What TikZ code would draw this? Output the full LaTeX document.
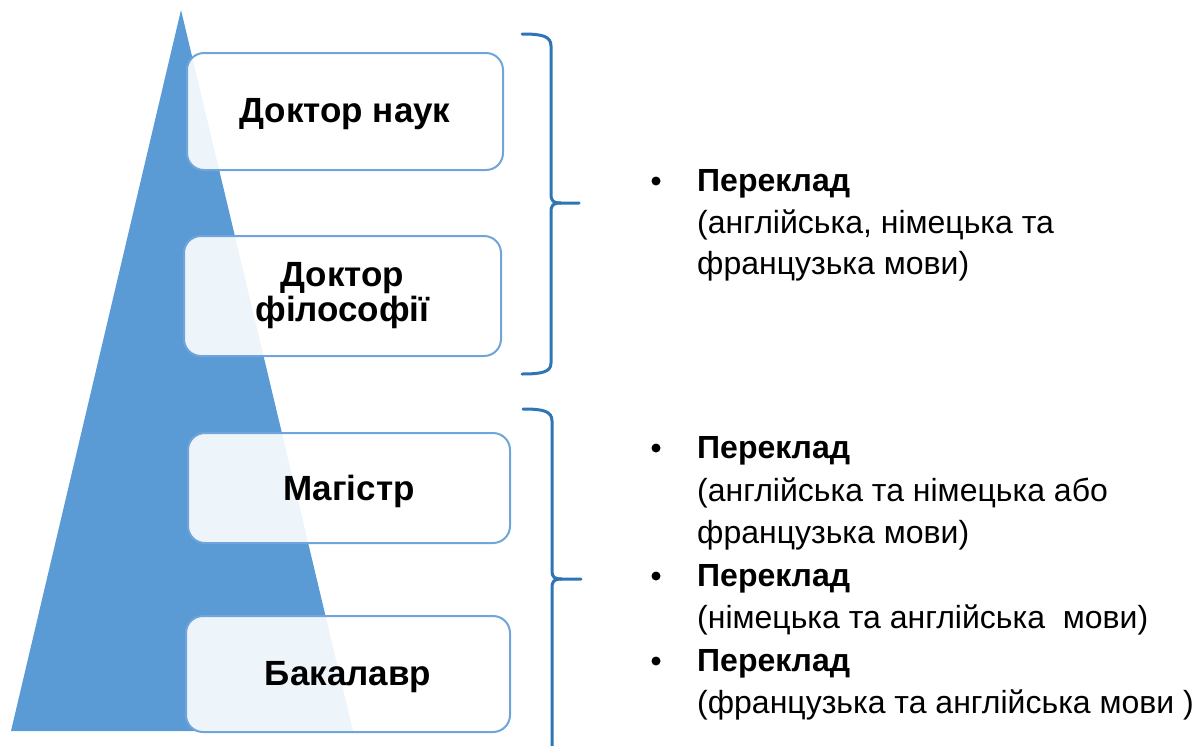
\documentclass[tikz,border=0pt]{standalone}
\usepackage{fontspec}
\setmainfont{Liberation Sans}
\definecolor{tri}{HTML}{5B9BD5}
\definecolor{boxline}{HTML}{6FA5DA}
\definecolor{bracecol}{HTML}{2E75B6}
\newcommand{\lowerlabel}[1]{\raisebox{-3pt}[\height][\depth]{#1}}
\begin{document}
\begin{tikzpicture}[x=1pt,y=-1pt,
  lvl/.style={draw=boxline, line width=2pt, rounded corners=17pt, fill=white,
    fill opacity=0.9, text opacity=1, align=center, inner sep=0pt,
    font=\fontsize{35}{35}\selectfont\bfseries},
  bracepath/.style={draw=bracecol, line width=3pt, line join=round, line cap=round},
  item/.style={anchor=base west, inner sep=0pt, font=\fontsize{32}{42}\selectfont},
  head/.style={item, font=\fontsize{32}{42}\selectfont\bfseries},
  bulletdot/.style={circle, fill=black, minimum size=9pt, inner sep=0pt}]
\useasboundingbox (0,0) rectangle (1195,745);
% pyramid
\fill[tri] (181,10) -- (353,731) -- (11,731) -- cycle;
% levels
\node[lvl, minimum width=316pt, minimum height=117pt] (dn) at (345,111.5) {\lowerlabel{Доктор наук}};
\node[lvl, minimum width=317pt, minimum height=120pt] (df) at (342.5,296) {Доктор\\філософії};
\node[lvl, minimum width=322pt, minimum height=110pt] (mg) at (349,488) {\lowerlabel{Магістр}};
\node[lvl, minimum width=324pt, minimum height=116pt] (bk) at (348,674) {\lowerlabel{Бакалавр}};
% braces
\draw[bracepath] (522,34) .. controls (542,34) and (551,36) .. (551,46) -- (551,194)
  .. controls (551,201) and (553,203) .. (561,203) -- (579,203);
\draw[bracepath] (561,203) .. controls (553,203) and (551,205) .. (551,212) -- (551,363)
  .. controls (551,372) and (542,374) .. (522,374);
\draw[bracepath] (523,409) .. controls (543,409) and (552,411) .. (552,421) -- (552,571)
  .. controls (552,577) and (554,579) .. (562,579) -- (581,579);
\draw[bracepath] (562,579) .. controls (554,579) and (552,581) .. (552,588) -- (552,748);
% group 1
\node[head] (h1) at (697,191) {Переклад};
\node[item] (h1a) at (697,233) {(англійська, німецька та};
\node[item] (h1b) at (697,274) {французька мови)};
\node[bulletdot] (b1) at (656,181) {};
% group 2
\node[head] (h2) at (697,458) {Переклад};
\node[item] (h2a) at (697,501) {(англійська та німецька або};
\node[item] (h2b) at (697,543) {французька мови)};
\node[bulletdot] (b2) at (656,448) {};
\node[head] (h3) at (697,586) {Переклад};
\node[item] (h3a) at (697,628) {(німецька та англійська\ \ мови)};
\node[bulletdot] (b3) at (656,576) {};
\node[head] (h4) at (697,671) {Переклад};
\node[item] (h4a) at (697,713) {(французька та англійська мови )};
\node[bulletdot] (b4) at (656,661) {};
\end{tikzpicture}
\end{document}
